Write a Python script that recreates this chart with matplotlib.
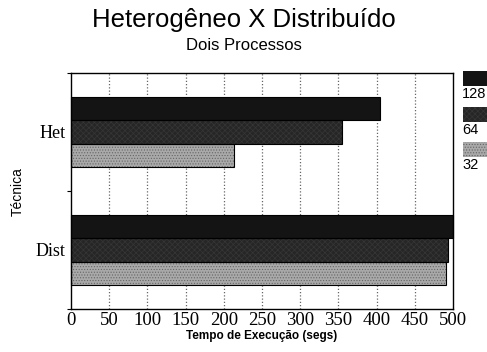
import matplotlib
matplotlib.use("Agg")
import matplotlib.pyplot as plt
from matplotlib.patches import Rectangle
import numpy as np

# ---- data ----
categories = ["Dist", "Het"]          # bottom to top
series_labels = ["128", "64", "32"]
values_128 = [500, 405]
values_64 = [493, 355]
values_32 = [491, 213]
x_ticks = [0, 50, 100, 150, 200, 250, 300, 350, 400, 450, 500]

title = "Heterogêneo X Distribuído"
subtitle = "Dois Processos"
xlabel = "Tempo de Execução (segs)"
ylabel = "Técnica"

plt.rcParams['hatch.linewidth'] = 0.5

face = ["#141414", "#262626", "#a9a9a9"]
hatchc = ["#141414", "#363636", "#666666"]
hatches = [None, "xxxxxx", "......"]

fig = plt.figure(figsize=(4.87, 3.52), dpi=100)
ax = fig.add_axes([71/487, 1-309/352, (453-71)/487, (309-73)/352])

y = np.arange(len(categories))
h = 0.2
series = [values_128, values_64, values_32]
offsets = [h, 0, -h]
for vals, off, fc, hc, ht in zip(series, offsets, face, hatchc, hatches):
    ax.barh(y + off, vals, height=h, color=fc, edgecolor=hc, hatch=ht,
            linewidth=0, zorder=2)
    ax.barh(y + off, vals, height=h, facecolor="none", edgecolor="black",
            linewidth=0.8, zorder=3, clip_on=False)

ax.set_xlim(0, 500)
ax.set_ylim(-0.5, 1.5)
ax.set_xticks(x_ticks)
ax.set_xticklabels([str(t) for t in x_ticks], family="Liberation Serif", fontsize=13.5)
ax.tick_params(axis="x", length=0, pad=2)
ax.set_yticks(y)
ax.set_yticklabels(categories, family="Liberation Serif", fontsize=13)
ax.tick_params(axis="y", which="major", length=0, pad=4)
ax.set_yticks([-0.5, 0.5, 1.5], minor=True)
ax.tick_params(axis="y", which="minor", length=3, width=0.8, direction="out")

for t in x_ticks[1:-1]:
    ax.axvline(t, color="#666666", linestyle=(0, (1, 1.6)), linewidth=0.9, zorder=1)

for s in ax.spines.values():
    s.set_linewidth(1.0)

ax.set_xlabel(xlabel, family="Liberation Sans", fontsize=8.5, fontweight="bold", labelpad=1)
fig.text(18/487, 1-192/352, ylabel, rotation=90, family="Liberation Sans",
         fontsize=10, ha="center", va="center")

fig.text(0.5, 1-20/352, title, family="Liberation Sans", fontsize=18.5, ha="center", va="center")
fig.text(0.5, 1-46/352, subtitle, family="Liberation Sans", fontsize=12, ha="center", va="center")

# legend (manual, at right edge)
patch_tops = [71, 107, 142]
for lab, top, fc, hc, ht in zip(series_labels, patch_tops, face, hatchc, hatches):
    r = Rectangle((463/487, 1-(top+15)/352), 30/487, 15/352, transform=fig.transFigure,
                  facecolor=fc, edgecolor=hc, hatch=ht, linewidth=0)
    fig.patches.append(r)
    fig.text(462/487, 1-(top+23)/352, lab, family="Liberation Sans", fontsize=10.5,
             ha="left", va="center")

fig.savefig("out.png", dpi=100)
